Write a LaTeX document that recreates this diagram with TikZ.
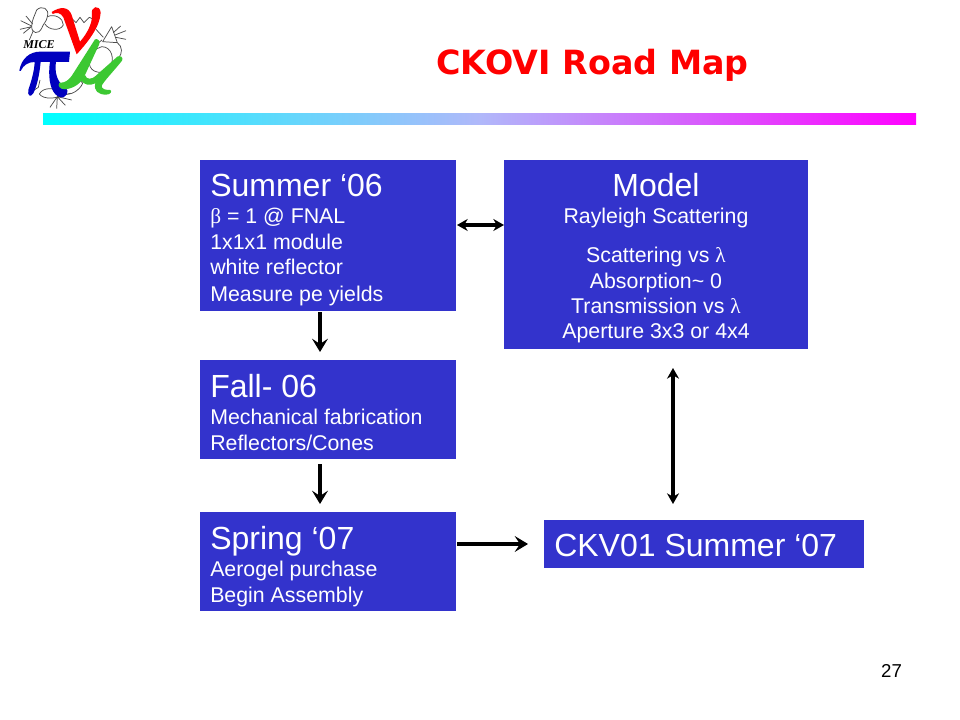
\documentclass[tikz,border=0pt]{standalone}
\usepackage{fontspec}
\setmainfont{Liberation Sans}
\newfontfamily\titlefont{DejaVu Sans}
\newfontfamily\logofont{Liberation Serif}
\usetikzlibrary{arrows.meta}
\definecolor{boxblue}{RGB}{51,51,204}
\definecolor{barmid}{RGB}{176,184,250}
\definecolor{pigreen}{RGB}{60,200,50}
\definecolor{piblue}{RGB}{0,0,190}
\newcommand{\grk}[1]{{\logofont #1}}
\tikzset{
  boxfill/.style={fill=boxblue,draw=none,inner sep=0pt,text=white},
  head/.style={font=\fontsize{24}{24}\selectfont,text=white,anchor=base west,inner sep=0pt},
  sub/.style={font=\fontsize{16}{16}\selectfont,text=white,anchor=base west,inner sep=0pt},
  subc/.style={font=\fontsize{16}{16}\selectfont,text=white,anchor=base,inner sep=0pt},
  conn/.style={line width=2.3pt,-{Stealth[length=10pt,width=12pt,inset=4pt]}},
  conn2/.style={line width=2.3pt,{Stealth[length=8pt,width=9pt]}-{Stealth[length=8pt,width=9pt]}},
  sketch/.style={line width=0.55pt,draw=black!70,line join=round}
}
\begin{document}
\begin{tikzpicture}[x=0.75pt,y=-0.75pt]
\useasboundingbox (0,0) rectangle (960,720);
\fill[white] (0,0) rectangle (960,720);
% logo, in units of a third of a pixel
\begin{scope}[x=0.25pt,y=-0.25pt]
\draw[sketch] (110,30) .. controls (125,15) and (150,25) .. (142,50) .. controls (140,65) and (130,70) .. (125,85) .. controls (115,105) and (95,100) .. (95,80) .. controls (95,60) and (105,45) .. (110,30);
\draw[sketch] (142,50) .. controls (165,40) and (190,55) .. (190,75) .. controls (180,95) and (145,90) .. (135,72);
\draw[sketch] (95,78) -- (62,62) (95,80) -- (60,88) (98,72) -- (78,48) (92,82) -- (70,100) (100,92) -- (88,120);
\draw[sketch] (195,62) -- (218,58) -- (228,68) -- (240,52) -- (252,68) -- (268,52) -- (285,60);
\draw[sketch] (335,80) -- (308,125) -- (352,128) -- cycle;
\draw[sketch] (345,105) -- (378,92) (348,112) -- (378,118) (340,98) -- (362,78) (310,112) -- (288,88) (306,120) -- (296,128);
\draw[sketch] (352,128) .. controls (368,140) and (368,160) .. (355,175);
\draw[sketch] (305,140) .. controls (335,140) and (345,175) .. (330,205) .. controls (310,225) and (270,220) .. (268,190) .. controls (268,165) and (285,145) .. (305,140);
\draw[sketch] (118,282) .. controls (130,260) and (165,262) .. (190,280) .. controls (210,290) and (240,270) .. (248,250) .. controls (240,240) and (232,225) .. (222,232);
\draw[sketch] (118,282) .. controls (130,298) and (165,298) .. (185,285);
\draw[sketch] (172,290) -- (150,322) (172,290) -- (170,326) (172,290) -- (196,316) (172,290) -- (215,300) (172,290) -- (212,280);
\draw[sketch] (95,275) -- (115,262) -- (120,240);
% nu
\fill[red] (155,36) .. controls (180,20) and (205,18) .. (215,45) -- (240,125) .. controls (262,100) and (277,70) .. (276,45) .. controls (270,18) and (300,12) .. (302,38) .. controls (300,80) and (265,125) .. (230,163) -- (190,52) .. controls (182,38) and (170,36) .. (158,42) -- cycle;
% pi
\fill[piblue] (58,212) .. controls (64,175) and (90,155) .. (120,155) -- (210,155) -- (207,186) -- (168,186) .. controls (163,215) and (172,245) .. (188,255) .. controls (204,265) and (210,280) .. (190,292) .. controls (165,295) and (150,265) .. (148,230) .. controls (147,212) and (148,198) .. (150,186) -- (122,186) .. controls (118,225) and (112,255) .. (100,280) .. controls (90,295) and (82,285) .. (85,270) .. controls (95,240) and (103,212) .. (104,186) .. controls (85,186) and (70,195) .. (62,213) -- cycle;
% mu
\fill[pigreen] (285,118) .. controls (292,115) and (302,122) .. (298,132) -- (255,225) .. controls (248,245) and (225,265) .. (195,268) .. controls (180,268) and (172,258) .. (178,248) .. controls (195,250) and (208,240) .. (220,220) -- cycle;
\fill[pigreen] (255,225) .. controls (260,240) and (275,240) .. (290,225) -- (352,170) .. controls (360,165) and (372,172) .. (366,182) .. controls (340,215) and (310,245) .. (305,258) .. controls (305,268) and (318,270) .. (330,270) .. controls (338,272) and (332,285) .. (318,284) .. controls (295,284) and (280,272) .. (286,250) .. controls (270,258) and (250,255) .. (243,240) -- cycle;
\end{scope}
\node[font=\logofont\bfseries\itshape\fontsize{9}{9}\selectfont,inner sep=0pt] (logotext) at (39,45) {MICE};
% title
\node[font=\titlefont\bfseries\fontsize{25}{25}\selectfont,text=red,anchor=base,inner sep=0pt] (title) at (592.5,75) {CKOVI Road Map};
% bar
\shade[left color=cyan,right color=barmid,draw=none] (43,113.5) rectangle (480,125);
\shade[left color=barmid,right color=magenta,draw=none] (480,113.5) rectangle (916,125);
% boxes
\node[boxfill,minimum width=192pt,minimum height=113.25pt,anchor=north west] (summer) at (200,160) {};
\node[boxfill,minimum width=228pt,minimum height=141.75pt,anchor=north west] (model) at (504,160) {};
\node[boxfill,minimum width=192pt,minimum height=74.25pt,anchor=north west] (fall) at (200,360) {};
\node[boxfill,minimum width=192pt,minimum height=74.25pt,anchor=north west] (spring) at (200,512) {};
\node[boxfill,minimum width=240pt,minimum height=36pt,anchor=north west] (ckv) at (544,520) {};
% text
\node[head] (t1) at (210,197) {Summer ‘06};
\node[sub] (t2) at (210,224) {\grk{β} = 1 @ FNAL};
\node[sub] (t3) at (210,250) {1x1x1 module};
\node[sub] (t4) at (210,275) {white reflector};
\node[sub] (t5) at (210,301) {Measure pe yields};
\node[head,anchor=base] (m1) at (656,197) {Model};
\node[subc] (m2) at (656,224) {Rayleigh Scattering};
\node[subc] (m3) at (656,263) {Scattering vs \grk{λ}};
\node[subc] (m4) at (656,288) {Absorption\char`~{} 0};
\node[subc] (m5) at (656,314) {Transmission vs \grk{λ}};
\node[subc] (m6) at (656,339) {Aperture 3x3 or 4x4};
\node[head] (f1) at (210,397) {Fall- 06};
\node[sub] (f2) at (210,424) {Mechanical fabrication};
\node[sub] (f3) at (210,450) {Reflectors/Cones};
\node[head] (s1) at (210,549) {Spring ‘07};
\node[sub] (s2) at (210,576) {Aerogel purchase};
\node[sub] (s3) at (210,602) {Begin Assembly};
\node[head] (c1) at (554,556) {CKV01 Summer ‘07};
\node[font=\fontsize{14}{14}\selectfont,anchor=base,inner sep=0pt] (page) at (891.5,677) {27};
% connectors
\coordinate (a1) at (320,312); \coordinate (a2) at (320,352);
\coordinate (b1) at (320,464); \coordinate (b2) at (320,504);
\coordinate (c1a) at (457,544); \coordinate (c2a) at (528,544);
\coordinate (d1) at (457,225); \coordinate (d2) at (504,225);
\coordinate (e1) at (673,368); \coordinate (e2) at (673,504);
\draw[conn] (a1) -- (a2);
\draw[conn] (b1) -- (b2);
\draw[conn] (c1a) -- (c2a);
\draw[conn2] (d1) -- (d2);
\draw[conn2] (e1) -- (e2);
\end{tikzpicture}
\end{document}
